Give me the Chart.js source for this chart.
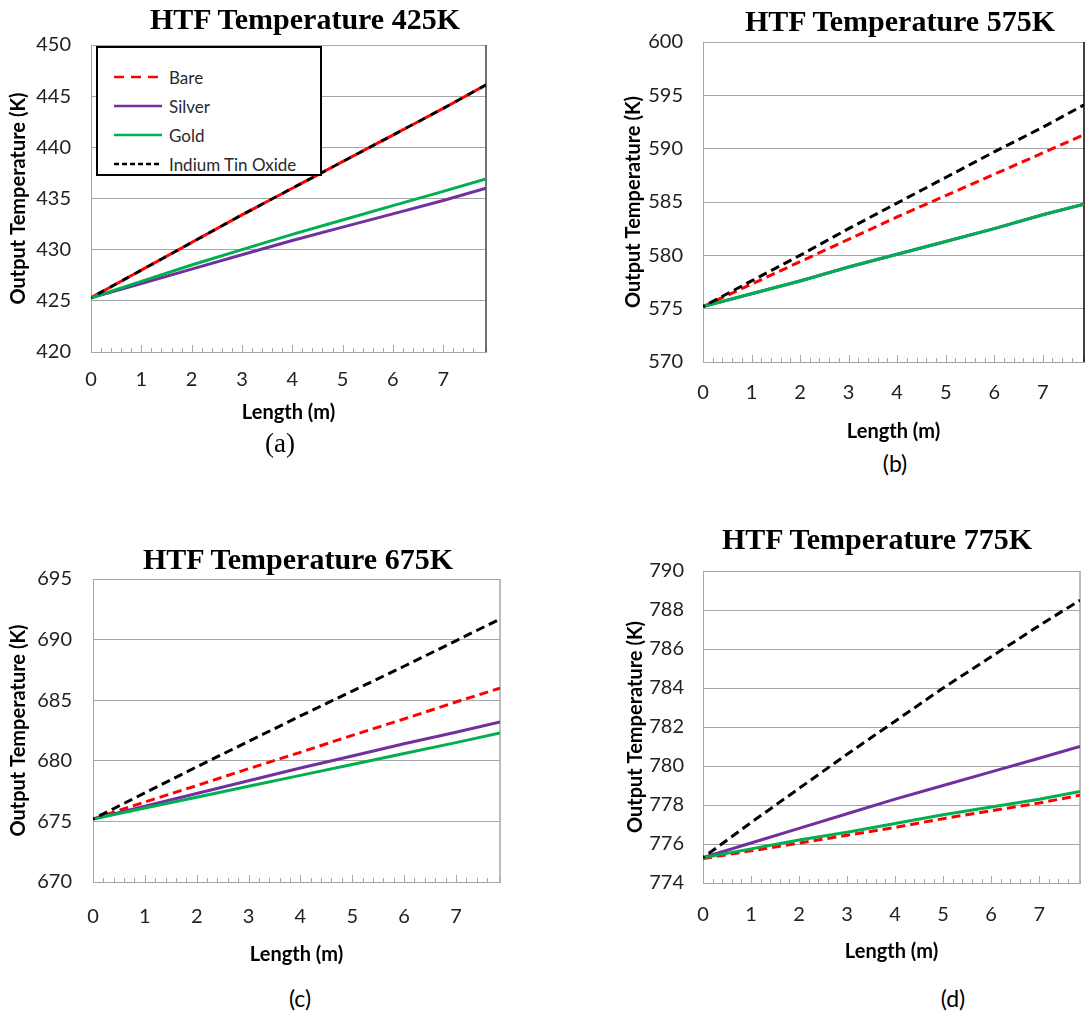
<!DOCTYPE html>
<html>
<head>
<meta charset="utf-8">
<script src="https://cdn.jsdelivr.net/npm/chart.js@4.4.1/dist/chart.umd.min.js"></script>
<style>
  html, body { margin:0; padding:0; background:#fff; }
  body { width:1086px; height:1017px; position:relative; overflow:hidden; }
  canvas { position:absolute; }
  .ttl { position:absolute; font-family:"Liberation Serif","Times New Roman",serif; font-weight:bold; font-size:30px; white-space:nowrap; transform:translate(-50%,-50%); color:#000; }
  .plab { position:absolute; white-space:nowrap; transform:translate(-50%,-50%); color:#000; }
  #legend { position:absolute; left:96px; top:46px; width:222px; height:126px; border:2px solid #000; background:#fff; box-sizing:content-box; font-family:Lato,"Open Sans",sans-serif; font-size:17px; color:#2a2a2a; }
  .lg { position:absolute; left:14px; height:22px; display:flex; align-items:center; }
  .lg svg { margin-right:5px; }
</style>
</head>
<body>
<script>
// ---------------- DATA ----------------
const lengths = [0, 1, 2, 3, 4, 5, 6, 7, 7.85];
const seriesNames = ['Bare', 'Silver', 'Gold', 'Indium Tin Oxide'];
const titles = ['HTF Temperature 425K', 'HTF Temperature 575K', 'HTF Temperature 675K', 'HTF Temperature 775K'];
const panelLabels = ['(a)', '(b)', '(c)', '(d)'];
const xTickLabels = ['0', '1', '2', '3', '4', '5', '6', '7'];
const xAxisTitle = 'Length (m)';
const yAxisTitle = 'Output Temperature (K)';
const yMins = [420, 570, 670, 774];
const yMaxs = [450, 600, 695, 790];
const ySteps = [5, 5, 5, 2];

// 425 K
const bare425   = [425.3, 428.0, 430.7, 433.4, 436.0, 438.6, 441.2, 443.8, 446.1];
const silver425 = [425.3, 426.7, 428.1, 429.5, 430.9, 432.2, 433.5, 434.8, 436.0];
const gold425   = [425.3, 426.9, 428.5, 430.0, 431.5, 432.9, 434.3, 435.7, 436.9];
const ito425    = [425.3, 428.0, 430.7, 433.4, 436.0, 438.6, 441.2, 443.8, 446.1];
// 575 K
const bare575   = [575.2, 577.3, 579.4, 581.5, 583.6, 585.6, 587.6, 589.6, 591.3];
const silver575 = [575.2, 576.4, 577.6, 578.9, 580.1, 581.3, 582.5, 583.8, 584.8];
const gold575   = [575.2, 576.4, 577.6, 578.9, 580.1, 581.3, 582.5, 583.8, 584.8];
const ito575    = [575.2, 577.6, 580.0, 582.5, 584.9, 587.3, 589.7, 592.0, 594.1];
// 675 K
const bare675   = [675.2, 676.6, 677.95, 679.35, 680.7, 682.1, 683.45, 684.85, 686.0];
const silver675 = [675.2, 676.25, 677.3, 678.35, 679.4, 680.4, 681.4, 682.35, 683.2];
const gold675   = [675.2, 676.1, 677.0, 677.9, 678.8, 679.7, 680.6, 681.5, 682.3];
const ito675    = [675.2, 677.35, 679.5, 681.6, 683.7, 685.75, 687.8, 689.9, 691.7];
// 775 K
const bare775   = [775.25, 775.65, 776.05, 776.45, 776.85, 777.3, 777.7, 778.1, 778.5];
const silver775 = [775.3, 776.05, 776.8, 777.55, 778.3, 779.0, 779.7, 780.4, 781.0];
const gold775   = [775.3, 775.75, 776.2, 776.6, 777.05, 777.5, 777.9, 778.3, 778.7];
const ito775    = [775.3, 777.1, 778.85, 780.6, 782.3, 784.0, 785.6, 787.2, 788.5];

const panelSeries = [
  [bare425, silver425, gold425, ito425],
  [bare575, silver575, gold575, ito575],
  [bare675, silver675, gold675, ito675],
  [bare775, silver775, gold775, ito775]
];

// ---------------- STYLE / LAYOUT ----------------
const seriesStyle = [
  { color: '#ff0000', dash: [9, 5], dashOffset: 0, order: 3 },
  { color: '#7030a0', dash: [], dashOffset: 0, order: 2 },
  { color: '#00b050', dash: [], dashOffset: 0, order: 1 },
  { color: '#000000', dash: [9, 5], dashOffset: 7, order: 0 }
];
// in panel (a) the black dashes sit in the gaps of the red dashes
const itoDashOverride = [{ dash: [7, 7], dashOffset: 6 }, null, null, null];

const layouts = [
  { left: 0,   top: 13,  w: 502, h: 416, yW: 91, xH: 77, yTitlePad: 7, yTickPad: 20, xTickPad: 16, xTitlePad: 4, rightColor: '#404040',
    title: [305, 19], plab: [280, 443], plabFont: '"Liberation Serif", "Times New Roman", serif', plabSize: 27 },
  { left: 615, top: 10,  w: 488, h: 438, yW: 88, xH: 86, yTitlePad: 7, yTickPad: 20, xTickPad: 19, xTitlePad: 4, rightColor: '#000000',
    title: [900, 21], plab: [895, 463], plabFont: 'Lato, sans-serif', plabSize: 23 },
  { left: 0,   top: 546, w: 523, h: 425, yW: 93, xH: 89, yTitlePad: 7, yTickPad: 21, xTickPad: 23, xTitlePad: 4, rightColor: '#a6a6a6',
    title: [298, 559], plab: [300, 998], plabFont: 'Lato, sans-serif', plabSize: 23 },
  { left: 615, top: 540, w: 485, h: 428, yW: 88, xH: 85, yTitlePad: 9, yTickPad: 19, xTickPad: 20, xTitlePad: 4, rightColor: '#a6a6a6',
    title: [877, 539], plab: [953, 998], plabFont: 'Lato, sans-serif', plabSize: 23 }
];
const gridColor = '#a6a6a6';

// plugin: right frame edge + small inward tick marks on x axis
const framePlugin = {
  id: 'frame',
  beforeDatasetsDraw(chart, args, opts) {
    const { ctx, chartArea } = chart;
    const xs = chart.scales.x;
    ctx.save();
    ctx.strokeStyle = gridColor;
    ctx.lineWidth = 1;
    xs.ticks.forEach(t => {
      const px = Math.round(xs.getPixelForValue(t.value)) + 0.5;
      const major = Math.abs(t.value - Math.round(t.value)) < 1e-6;
      ctx.beginPath();
      ctx.moveTo(px, chartArea.bottom);
      ctx.lineTo(px, chartArea.bottom - (major ? 7 : 4));
      ctx.stroke();
    });
    ctx.strokeStyle = opts.rightColor || gridColor;
    ctx.lineWidth = 1.5;
    ctx.beginPath();
    ctx.moveTo(chartArea.right, chartArea.top);
    ctx.lineTo(chartArea.right, chartArea.bottom);
    ctx.stroke();
    ctx.restore();
  }
};

const sansFont = 'Lato, "Open Sans", sans-serif';

for (let p = 0; p < 4; p++) {
  const L = layouts[p];
  const cv = document.createElement('canvas');
  cv.style.left = L.left + 'px';
  cv.style.top = L.top + 'px';
  cv.style.width = L.w + 'px';
  cv.style.height = L.h + 'px';
  cv.width = L.w; cv.height = L.h;
  document.body.appendChild(cv);

  const datasets = seriesNames.map((name, i) => {
    const st = seriesStyle[i];
    const ov = (i === 3 && itoDashOverride[p]) ? itoDashOverride[p] : null;
    return {
      label: name,
      data: lengths.map((x, k) => ({ x: x, y: panelSeries[p][i][k] })),
      borderColor: st.color,
      backgroundColor: st.color,
      borderWidth: 3,
      borderDash: ov ? ov.dash : st.dash,
      borderDashOffset: ov ? ov.dashOffset : st.dashOffset,
      pointRadius: 0,
      tension: 0,
      fill: false,
      order: st.order
    };
  });

  new Chart(cv, {
    type: 'line',
    data: { datasets },
    plugins: [framePlugin],
    options: {
      responsive: false,
      animation: false,
      events: [],
      layout: { padding: 0 },
      plugins: {
        legend: { display: false },
        tooltip: { enabled: false },
        title: { display: false },
        frame: { rightColor: L.rightColor }
      },
      scales: {
        x: {
          type: 'linear',
          min: 0,
          max: lengths[lengths.length - 1],
          afterFit: s => { s.height = L.xH; },
          grid: { display: false, drawTicks: false },
          border: { display: true, color: gridColor, width: 1 },
          ticks: {
            stepSize: 0.2,
            autoSkip: false,
            maxRotation: 0,
            padding: L.xTickPad,
            color: '#222',
            font: { family: sansFont, size: 20 },
            callback: v => {
              const r = Math.round(v);
              return Math.abs(v - r) < 1e-6 && r < xTickLabels.length ? xTickLabels[r] : '';
            }
          },
          title: {
            display: true,
            text: xAxisTitle,
            color: '#000',
            padding: { top: 0, bottom: L.xTitlePad },
            font: { family: sansFont, size: 20, weight: 'bold' }
          }
        },
        y: {
          type: 'linear',
          min: yMins[p],
          max: yMaxs[p],
          afterFit: s => { s.width = L.yW; },
          grid: { color: gridColor, lineWidth: 1, drawTicks: false },
          border: { display: true, color: gridColor, width: 1 },
          ticks: {
            stepSize: ySteps[p],
            padding: L.yTickPad,
            color: '#222',
            font: { family: sansFont, size: 20 }
          },
          title: {
            display: true,
            text: yAxisTitle,
            color: '#000',
            padding: { top: L.yTitlePad, bottom: 0 },
            font: { family: sansFont, size: 20, weight: 'bold' }
          }
        }
      }
    }
  });

  const t = document.createElement('div');
  t.className = 'ttl';
  t.textContent = titles[p];
  t.style.left = L.title[0] + 'px';
  t.style.top = L.title[1] + 'px';
  document.body.appendChild(t);

  const pl = document.createElement('div');
  pl.className = 'plab';
  pl.textContent = panelLabels[p];
  pl.style.left = L.plab[0] + 'px';
  pl.style.top = L.plab[1] + 'px';
  pl.style.fontFamily = L.plabFont;
  pl.style.fontSize = L.plabSize + 'px';
  document.body.appendChild(pl);
}

// legend (panel a), built from the series names and styles
const legend = document.createElement('div');
legend.id = 'legend';
const legendDash = [[10, 7], [], [], [5, 3]];
seriesNames.forEach((name, i) => {
  const row = document.createElement('div');
  row.className = 'lg';
  row.style.top = (18 + i * 29) + 'px';
  const svgNS = 'http://www.w3.org/2000/svg';
  const svg = document.createElementNS(svgNS, 'svg');
  svg.setAttribute('width', '52'); svg.setAttribute('height', '6');
  const ln = document.createElementNS(svgNS, 'line');
  ln.setAttribute('x1', '2'); ln.setAttribute('y1', '3');
  ln.setAttribute('x2', '50'); ln.setAttribute('y2', '3');
  ln.setAttribute('stroke', seriesStyle[i].color);
  ln.setAttribute('stroke-width', '2.5');
  if (legendDash[i].length) ln.setAttribute('stroke-dasharray', legendDash[i].join(' '));
  svg.appendChild(ln);
  const sp = document.createElement('span');
  sp.textContent = name;
  row.appendChild(svg); row.appendChild(sp);
  legend.appendChild(row);
});
document.body.appendChild(legend);
</script>
</body>
</html>
